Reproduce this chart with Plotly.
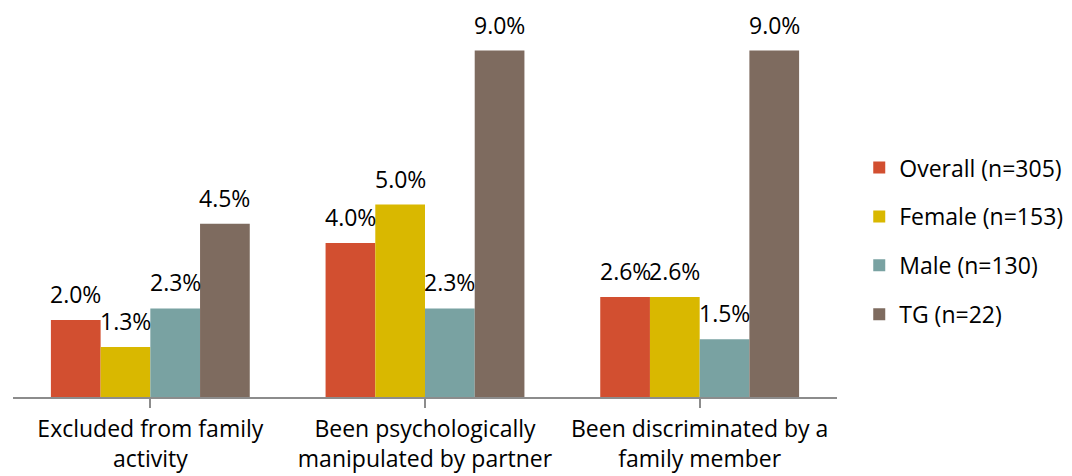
import plotly.graph_objects as go

# Survey results: share of respondents reporting each experience
categories = [
    "Excluded from family<br>activity",
    "Been psychologically<br>manipulated by partner",
    "Been discriminated by a<br>family member",
]
series_names = ["Overall (n=305)", "Female (n=153)", "Male (n=130)", "TG (n=22)"]
overall = [2.0, 4.0, 2.6]
female = [1.3, 5.0, 2.6]
male = [2.3, 2.3, 1.5]
tg = [4.5, 9.0, 9.0]

series_values = [overall, female, male, tg]
colors = ["#D24F30", "#D9B800", "#79A2A2", "#7E6B5F"]

FONT = "Open Sans"
FS = 23
W, H = 1072, 476
margin = dict(l=13, r=235, t=12, b=79)
bargap = 0.276

fig = go.Figure()
for name, vals, col in zip(series_names, series_values, colors):
    fig.add_trace(go.Bar(
        x=list(range(len(categories))),
        y=vals,
        name=name,
        marker=dict(color=col, line=dict(width=0)),
        legendgroup=name,
    ))

# value labels above each bar, offset to the bar's slot within its group
plot_w = W - margin["l"] - margin["r"]
cat_w = plot_w / len(categories)
bar_w = cat_w * (1 - bargap) / len(series_values)
for s, vals in enumerate(series_values):
    offset = (s - (len(series_values) - 1) / 2) * bar_w
    for c, v in enumerate(vals):
        fig.add_annotation(
            x=c, y=v, xref="x", yref="y",
            text=f"{v:.1f}%", showarrow=False,
            xanchor="center", yanchor="bottom",
            xshift=offset, yshift=8,
            font=dict(family=FONT, size=FS, color="#000000"),
        )

fig.update_layout(
    width=W, height=H,
    margin=dict(margin, autoexpand=False),
    barmode="group",
    bargap=bargap,
    bargroupgap=0,
    plot_bgcolor="white",
    paper_bgcolor="white",
    font=dict(family=FONT, size=FS, color="#000000"),
    showlegend=True,
    legend=dict(
        x=1.027, xanchor="left",
        y=0.405, yanchor="middle",
        traceorder="grouped",
        tracegroupgap=16,
        itemwidth=30,
        font=dict(family=FONT, size=FS, color="#000000"),
        bgcolor="rgba(0,0,0,0)",
    ),
    xaxis=dict(
        tickmode="array",
        tickvals=list(range(len(categories))),
        ticktext=categories,
        range=[-0.5, len(categories) - 0.5],
        automargin=False,
        showline=True, linecolor="#8C8C8C", linewidth=1.5,
        ticks="outside", tickson="boundaries", ticklen=9,
        tickcolor="#8C8C8C", tickwidth=1.5,
        ticklabelstandoff=2,
        showgrid=False, zeroline=False,
        tickfont=dict(family=FONT, size=FS, color="#000000"),
    ),
    yaxis=dict(
        range=[0, 10],
        visible=False,
        automargin=False,
        showgrid=False, zeroline=False,
    ),
)

fig.write_html("out.html")
